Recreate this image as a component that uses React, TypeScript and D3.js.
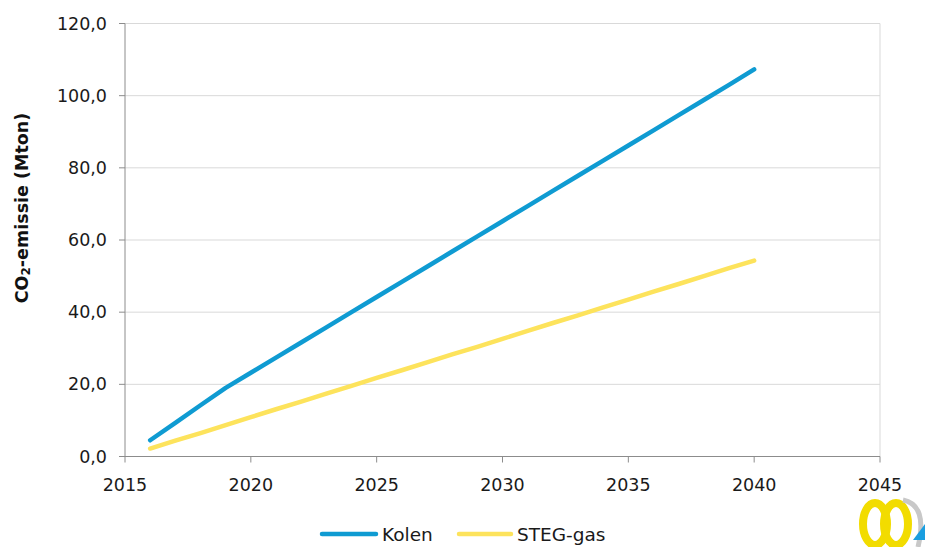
import React from "react";
import * as d3 from "d3";

const years = [2016, 2017, 2018, 2019, 2020, 2021, 2022, 2023, 2024, 2025, 2026, 2027, 2028, 2029, 2030, 2031, 2032, 2033, 2034, 2035, 2036, 2037, 2038, 2039, 2040];
const kolen = [4.5, 9.3, 14.2, 19.0, 23.2, 27.4, 31.6, 35.8, 40.0, 44.2, 48.4, 52.6, 56.8, 61.0, 65.2, 69.4, 73.6, 77.8, 82.0, 86.2, 90.4, 94.6, 98.8, 103.0, 107.3];
const stegGas = [2.2, 4.4, 6.5, 8.7, 10.9, 13.1, 15.2, 17.4, 19.6, 21.8, 23.9, 26.1, 28.3, 30.4, 32.6, 34.8, 37.0, 39.1, 41.3, 43.5, 45.7, 47.8, 50.0, 52.2, 54.3];
const xTicks = [2015, 2020, 2025, 2030, 2035, 2040, 2045];
const yTicks = [0, 20, 40, 60, 80, 100, 120];
const seriesNames = ["Kolen", "STEG-gas"];

const W = 925;
const H = 547;
const left = 125;
const right = 880;
const top = 23.5;
const bottom = 456.5;
const font = "'DejaVu Sans', Verdana, sans-serif";
const colors = ["#0f9bd2", "#fde35c"];

export default function App() {
  const x = d3.scaleLinear().domain([2015, 2045]).range([left, right]);
  const y = d3.scaleLinear().domain([0, 120]).range([bottom, top]);
  const fmt = (v: number) => d3.format(".1f")(v).replace(".", ",");
  const line = d3
    .line<number>()
    .x((_, i) => x(years[i]))
    .y((d) => y(d));
  const series = [kolen, stegGas];

  return (
    <svg
      width={W}
      height={H}
      style={{ position: "absolute", left: 0, top: 0, background: "#fff" }}
    >
      {/* gridlines */}
      {yTicks.map((t) => (
        <line key={"g" + t} x1={left} x2={right} y1={y(t)} y2={y(t)} stroke="#d9d9d9" strokeWidth={1} />
      ))}
      <line x1={right} x2={right} y1={top} y2={bottom} stroke="#d9d9d9" strokeWidth={1} />

      {/* axes */}
      <line x1={left} x2={left} y1={top} y2={bottom} stroke="#8c8c8c" strokeWidth={1} />
      <line x1={left} x2={right} y1={bottom} y2={bottom} stroke="#8c8c8c" strokeWidth={1} />
      {yTicks.map((t) => (
        <g key={"y" + t}>
          <line x1={left - 6} x2={left} y1={y(t)} y2={y(t)} stroke="#8c8c8c" />
          <text
            x={left - 18}
            y={y(t)}
            textAnchor="end"
            dominantBaseline="central"
            fontFamily={font}
            fontSize={17.5}
            fill="#1a1a1a"
          >
            {fmt(t)}
          </text>
        </g>
      ))}
      {xTicks.map((t) => (
        <g key={"x" + t}>
          <line x1={x(t)} x2={x(t)} y1={bottom} y2={bottom + 6} stroke="#8c8c8c" />
          <text
            x={x(t)}
            y={bottom + 28}
            textAnchor="middle"
            dominantBaseline="central"
            fontFamily={font}
            fontSize={17.5}
            fill="#1a1a1a"
          >
            {t}
          </text>
        </g>
      ))}

      {/* y axis title */}
      <text
        transform={`translate(22, 208) rotate(-90)`}
        textAnchor="middle"
        dominantBaseline="central"
        fontFamily={font}
        fontSize={17.5}
        fontWeight="bold"
        fill="#111"
      >
        CO<tspan fontSize={12} dy={4}>2</tspan>
        <tspan dy={-4}>-emissie (Mton)</tspan>
      </text>

      {/* series */}
      {series.map((s, i) => (
        <path
          key={seriesNames[i]}
          d={line(s) ?? ""}
          fill="none"
          stroke={colors[i]}
          strokeWidth={4.5}
          strokeLinecap="round"
          strokeLinejoin="round"
        />
      ))}

      {/* legend */}
      {[
        { x0: 322, x1: 376, tx: 382 },
        { x0: 459, x1: 511, tx: 517 },
      ].map((p, i) => (
        <g key={"l" + i}>
          <line x1={p.x0} x2={p.x1} y1={534} y2={534} stroke={colors[i]} strokeWidth={4.5} strokeLinecap="round" />
          <text x={p.tx} y={534} dominantBaseline="central" fontFamily={font} fontSize={18.5} fill="#1a1a1a">
            {seriesNames[i]}
          </text>
        </g>
      ))}

      {/* logo */}
      <g>
        <ellipse cx={875} cy={524} rx={12} ry={21} fill="none" stroke="#f2dc00" strokeWidth={8} />
        <ellipse cx={896} cy={524} rx={12} ry={21} fill="none" stroke="#f2dc00" strokeWidth={8} />
        <path d="M903,500 Q928,505 918,547" fill="none" stroke="#c8c8c8" strokeWidth={5} />
        <path d="M913,540 L925,524 L925,540 Z" fill="#1a9ee0" />
      </g>
    </svg>
  );
}
